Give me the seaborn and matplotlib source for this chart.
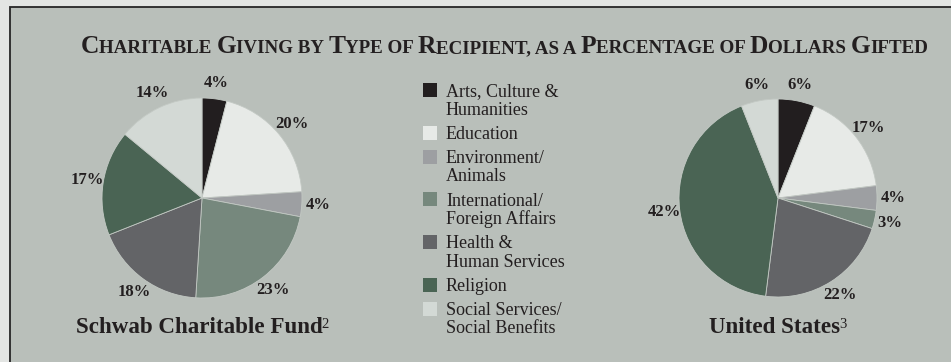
import matplotlib
matplotlib.use("Agg")
import matplotlib.pyplot as plt
from matplotlib.patches import Rectangle
import seaborn as sns

# ---------------- data ----------------
title = "Charitable Giving by Type of Recipient, as a Percentage of Dollars Gifted"
categories = [
    "Arts, Culture &\nHumanities",
    "Education",
    "Environment/\nAnimals",
    "International/\nForeign Affairs",
    "Health &\nHuman Services",
    "Religion",
    "Social Services/\nSocial Benefits",
]
schwab_values = [4, 20, 4, 23, 18, 17, 14]
us_values = [6, 17, 4, 3, 22, 42, 6]
pie_titles = ["Schwab Charitable Fund", "United States"]
pie_notes = ["2", "3"]
colors = ["#221e1f", "#e7eae7", "#9d9fa2", "#76887d", "#636467", "#4a6454", "#d3d9d5"]

# ---------------- style ----------------
W, H = 951, 362
sns.set_theme(style="white")
plt.rcParams["font.family"] = ["Liberation Serif", "DejaVu Serif"]
palette = sns.color_palette(colors)
TXT = "#231f20"
PANEL = "#b9bfba"

fig = plt.figure(figsize=(W / 100, H / 100), dpi=100)
fig.patch.set_facecolor("#e3e5e3")
fig.add_artist(Rectangle((10 / W, -0.02), 1.0, (H - 7) / H + 0.02, transform=fig.transFigure,
                         facecolor=PANEL, edgecolor="#262626", linewidth=1.3, zorder=-5))


def fx(x):
    return x / W


def fy(y):
    return (H - y) / H


renderer = fig.canvas.get_renderer()


def text_width(s, **kw):
    t = fig.text(0, 0, "|" + s + "|", **kw)
    w1 = t.get_window_extent(renderer).width
    t.remove()
    t = fig.text(0, 0, "||", **kw)
    w0 = t.get_window_extent(renderer).width
    t.remove()
    return w1 - w0


# ---------------- pies ----------------
pie_geom = [(202, 198, 100), (778, 198, 99)]
for values, (cx, cy, r), name, note in zip([schwab_values, us_values], pie_geom, pie_titles, pie_notes):
    ax = fig.add_axes([fx(cx - r), fy(cy + r), fx(2 * r), 2 * r / H])
    ax.patch.set_alpha(0)
    ax.pie(values, colors=palette, startangle=90, counterclock=False, radius=1,
           autopct="%.0f%%", pctdistance=1.16,
           wedgeprops=dict(linewidth=0.6, edgecolor="#c3c9c4"),
           textprops=dict(fontsize=12, fontweight="bold", color=TXT))
    ax.set_xlim(-1, 1)
    ax.set_ylim(-1, 1)
    ax.set_aspect("equal")
    ax.axis("off")

    # subtitle with superscript note
    main_kw = dict(fontsize=16.6, fontweight="bold", color=TXT)
    sup_kw = dict(fontsize=10.5, color=TXT)
    w_main = text_width(name, **main_kw)
    w_sup = text_width(note, **sup_kw)
    x0 = cx - (w_main + w_sup - 1) / 2
    fig.text(fx(x0), fy(333), name, ha="left", va="baseline", **main_kw)
    fig.text(fx(x0 + w_main - 1), fy(333 - 5.5), note, ha="left", va="baseline", **sup_kw)

# ---------------- title (small caps) ----------------
runs = []
for ch in title:
    big = ch.isupper()
    if runs and runs[-1][1] == big:
        runs[-1][0] += ch.upper()
    else:
        runs.append([ch.upper(), big])

big_size, small_size = 18.5, 13.8
tkw = dict(fontweight="bold", color=TXT)
total = sum(text_width(s, fontsize=big_size if b else small_size, **tkw) for s, b in runs)
scale = 845 / total
big_size *= scale
small_size *= scale
x = 503.5 - 845 / 2
for s, b in runs:
    fs = big_size if b else small_size
    fig.text(fx(x), fy(53), s, ha="left", va="baseline", fontsize=fs, **tkw)
    x += text_width(s, fontsize=fs, **tkw)

# ---------------- legend ----------------
baseline = 96.3
for label, col in zip(categories, palette):
    lines = label.split("\n")
    fig.add_artist(Rectangle((fx(423), fy(baseline + 0.7)), 14 / W, 14 / H,
                             transform=fig.transFigure, facecolor=col, edgecolor="none"))
    for i, line in enumerate(lines):
        fig.text(fx(446), fy(baseline + 18.4 * i), line, ha="left", va="baseline",
                 fontsize=13, color=TXT)
    baseline += 18.4 * (len(lines) - 1) + 24.2

fig.savefig("out.png", dpi=100, facecolor=fig.get_facecolor())
